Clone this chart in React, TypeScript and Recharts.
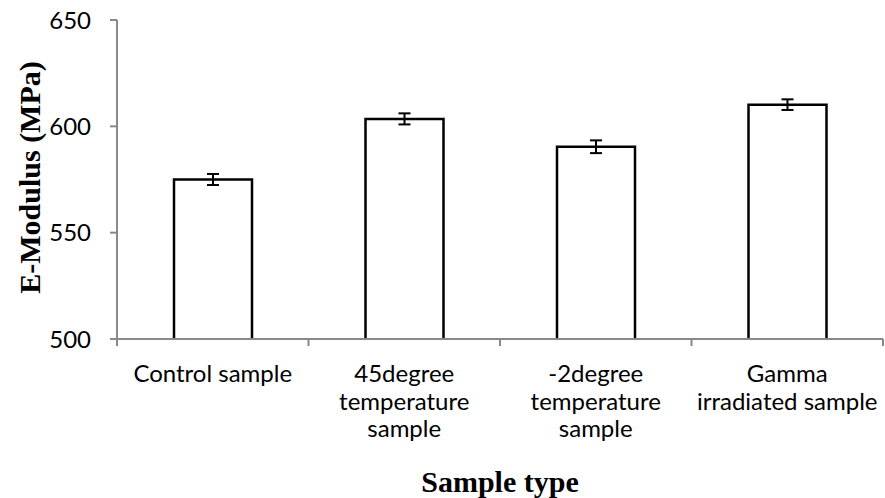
import { Bar, BarChart, ErrorBar, XAxis, YAxis } from "recharts";

// values
const categories = [
  "Control sample",
  "45degree temperature sample",
  "-2degree temperature sample",
  "Gamma irradiated sample",
];
const tickLines = [
  ["Control sample"],
  ["45degree", "temperature", "sample"],
  ["-2degree", "temperature", "sample"],
  ["Gamma", "irradiated sample"],
];
const moduli = [575, 603.5, 590.4, 610.2];
const errors = [2.6, 2.6, 3, 2.5];
const yTicks = [500, 550, 600, 650];

const data = categories.map((name, i) => ({ name, value: moduli[i], err: errors[i] }));

const axisGrey = "#898989";
const tickFont = "Lato, 'Open Sans', sans-serif";
const titleFont = "'Liberation Serif', 'Times New Roman', serif";

// bar drawn as open box, the bottom is the axis line
const OpenBar = (props: any) => {
  const { x, y, width, height } = props;
  if (width == null || height == null) return null;
  const d = `M${x},${y + height} L${x},${y} L${x + width},${y} L${x + width},${y + height}`;
  return <path d={d} fill="#fff" stroke="#000" strokeWidth={2.5} strokeLinejoin="miter" />;
};

// category label + tick marks on the category edges (excel style)
const CategoryTick = (props: any) => {
  const { x, y, index, width, visibleTicksCount } = props;
  const lines = tickLines[index] || [];
  const half = width / visibleTicksCount / 2;
  return (
    <g>
      <line x1={x - half} x2={x - half} y1={y} y2={y + 7} stroke={axisGrey} strokeWidth={2} />
      {index === visibleTicksCount - 1 && (
        <line x1={x + half} x2={x + half} y1={y} y2={y + 7} stroke={axisGrey} strokeWidth={2} />
      )}
      <text x={x} y={y + 43} textAnchor="middle" fontFamily={tickFont} fontSize={24} fill="#000">
        {lines.map((l, i) => (
          <tspan key={i} x={x} dy={i === 0 ? 0 : 27.5}>
            {l}
          </tspan>
        ))}
      </text>
    </g>
  );
};

const YTitle = (props: any) => {
  const vb = props.viewBox || {};
  const cx = 40;
  const cy = vb.y + vb.height / 2 - 2;
  return (
    <text
      x={cx}
      y={cy}
      transform={`rotate(-90, ${cx}, ${cy})`}
      textAnchor="middle"
      fontFamily={titleFont}
      fontWeight="bold"
      fontSize={30}
      fill="#000"
    >
      E-Modulus (MPa)
    </text>
  );
};

const XTitle = (props: any) => {
  const vb = props.viewBox || {};
  return (
    <text
      x={vb.x + vb.width / 2}
      y={492}
      textAnchor="middle"
      fontFamily={titleFont}
      fontWeight="bold"
      fontSize={30}
      fill="#000"
    >
      Sample type
    </text>
  );
};

export default function App() {
  return (
    <div style={{ position: "absolute", left: 0, top: 0, background: "#fff" }}>
      <BarChart width={885} height={498} data={data} margin={{ top: 20, right: 2, left: 0, bottom: 0 }}>
        <XAxis
          dataKey="name"
          height={159}
          axisLine={{ stroke: axisGrey, strokeWidth: 2 }}
          tickLine={false}
          tickSize={0}
          tickMargin={0}
          interval={0}
          tick={<CategoryTick />}
          label={<XTitle />}
        />
        <YAxis
          domain={[500, 650]}
          ticks={yTicks}
          width={117}
          allowDataOverflow
          axisLine={{ stroke: axisGrey, strokeWidth: 2 }}
          tickLine={{ stroke: axisGrey, strokeWidth: 2 }}
          tickSize={7}
          tickMargin={19}
          tick={{ fill: "#000", fontSize: 24, fontFamily: tickFont }}
          label={<YTitle />}
        />
        <Bar dataKey="value" barSize={78} shape={<OpenBar />} isAnimationActive={false}>
          <ErrorBar dataKey="err" width={6} strokeWidth={2} stroke="#000" direction="y" />
        </Bar>
      </BarChart>
    </div>
  );
}
